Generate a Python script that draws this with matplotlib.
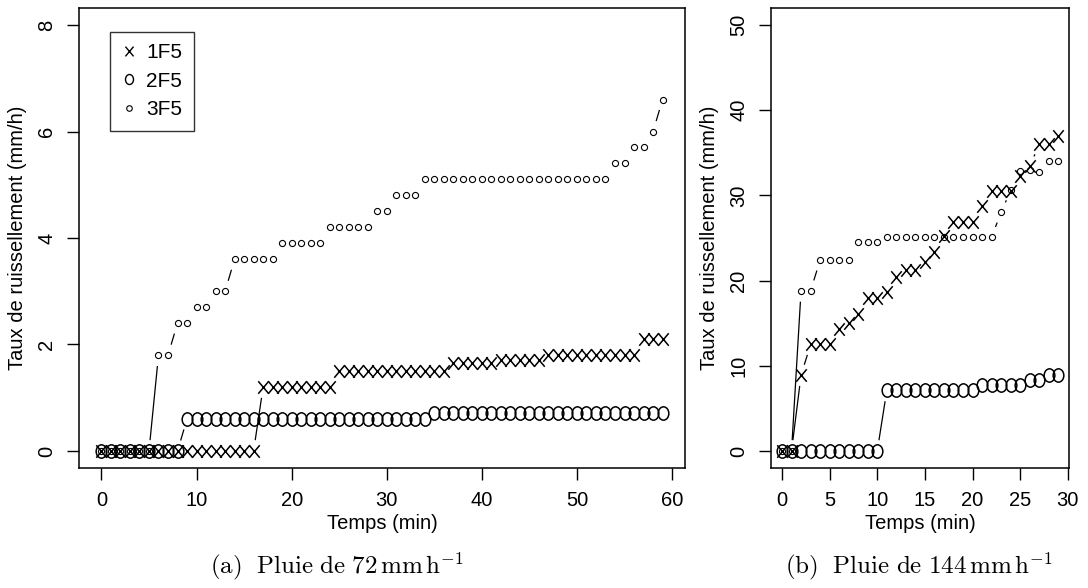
import matplotlib
import numpy as np
from matplotlib.lines import Line2D
from matplotlib.path import Path

matplotlib.use("Agg")
import matplotlib.pyplot as plt  # noqa: E402

plt.rcParams["font.family"] = ["Liberation Sans", "DejaVu Sans"]
plt.rcParams["mathtext.fontset"] = "cm"

SERIES = ["1F5", "2F5", "3F5"]

# (a) rain 72 mm/h, one reading per minute
TIME_A = list(range(60))
F1_A = [
    0, 0, 0, 0, 0, 0, 0, 0, 0, 0,
    0, 0, 0, 0, 0, 0, 0, 1.2, 1.2, 1.2,
    1.2, 1.2, 1.2, 1.2, 1.2, 1.5, 1.5, 1.5, 1.5, 1.5,
    1.5, 1.5, 1.5, 1.5, 1.5, 1.5, 1.5, 1.65, 1.65, 1.65,
    1.65, 1.65, 1.7, 1.7, 1.7, 1.7, 1.7, 1.8, 1.8, 1.8,
    1.8, 1.8, 1.8, 1.8, 1.8, 1.8, 1.8, 2.1, 2.1, 2.1,
]
F2_A = [
    0, 0, 0, 0, 0, 0, 0, 0, 0, 0.6,
    0.6, 0.6, 0.6, 0.6, 0.6, 0.6, 0.6, 0.6, 0.6, 0.6,
    0.6, 0.6, 0.6, 0.6, 0.6, 0.6, 0.6, 0.6, 0.6, 0.6,
    0.6, 0.6, 0.6, 0.6, 0.6, 0.72, 0.72, 0.72, 0.72, 0.72,
    0.72, 0.72, 0.72, 0.72, 0.72, 0.72, 0.72, 0.72, 0.72, 0.72,
    0.72, 0.72, 0.72, 0.72, 0.72, 0.72, 0.72, 0.72, 0.72, 0.72,
]
F3_A = [
    0, 0, 0, 0, 0, 0, 1.8, 1.8, 2.4, 2.4,
    2.7, 2.7, 3.0, 3.0, 3.6, 3.6, 3.6, 3.6, 3.6, 3.9,
    3.9, 3.9, 3.9, 3.9, 4.2, 4.2, 4.2, 4.2, 4.2, 4.5,
    4.5, 4.8, 4.8, 4.8, 5.1, 5.1, 5.1, 5.1, 5.1, 5.1,
    5.1, 5.1, 5.1, 5.1, 5.1, 5.1, 5.1, 5.1, 5.1, 5.1,
    5.1, 5.1, 5.1, 5.1, 5.4, 5.4, 5.7, 5.7, 6.0, 6.6,
]

# (b) rain 144 mm/h
TIME_B = list(range(30))
F1_B = [
    0, 0, 8.9, 12.5, 12.5, 12.5, 14.3, 15.0, 16.1, 17.9,
    17.9, 18.7, 20.4, 21.3, 21.3, 22.2, 23.3, 25.2, 26.9, 26.9,
    26.9, 28.8, 30.5, 30.5, 30.5, 32.3, 33.4, 36.0, 36.0, 37.0,
]
F2_B = [
    0, 0, 0, 0, 0, 0, 0, 0, 0, 0,
    0, 7.1, 7.1, 7.1, 7.1, 7.1, 7.1, 7.1, 7.1, 7.1,
    7.1, 7.8, 7.8, 7.8, 7.8, 7.8, 8.3, 8.3, 8.9, 8.9,
]
F3_B = [
    0, 0, 18.8, 18.8, 22.4, 22.4, 22.4, 22.4, 24.5, 24.5,
    24.5, 25.1, 25.1, 25.1, 25.1, 25.1, 25.1, 25.1, 25.1, 25.1,
    25.1, 25.1, 25.1, 28.0, 30.6, 32.9, 33.0, 32.8, 34.0, 34.0,
]

CAPTIONS = [
    r"$\mathrm{(a)\ \ Pluie\ de\ 72\,mm\,h^{-1}}$",
    r"$\mathrm{(b)\ \ Pluie\ de\ 144\,mm\,h^{-1}}$",
]

# thin "x" and tall "o" like R's pch characters
MARK_X = Path([(-0.42, -0.5), (0.42, 0.5), (-0.42, 0.5), (0.42, -0.5)],
              [Path.MOVETO, Path.LINETO, Path.MOVETO, Path.LINETO])
_circle = Path.unit_circle()
MARK_O = Path(_circle.vertices * [0.8, 1.0], _circle.codes)

STYLES = [
    dict(marker=MARK_X, ms=9.0, mfc="none", mec="black", mew=1.1),
    dict(marker=MARK_O, ms=9.6, mfc="none", mec="black", mew=1.1),
    dict(marker="o", ms=4.4, mfc="none", mec="black", mew=0.8),
]


def connect(ax, x, y, gap=11.5):
    # like R type="b": segments between points, cut back around each point
    pts = ax.transData.transform(np.column_stack([x, y]))
    back = ax.transData.inverted()
    for p0, p1 in zip(pts[:-1], pts[1:]):
        d = p1 - p0
        length = np.hypot(*d)
        if length <= 2 * gap:
            continue
        u = d / length
        a, b = back.transform([p0 + gap * u, p1 - gap * u])
        ax.plot([a[0], b[0]], [a[1], b[1]], color="black", lw=0.9)


def panel(ax, t, series, xlim, ylim, xticks, yticks):
    ax.set_xlim(xlim)
    ax.set_ylim(ylim)
    ax.set_xticks(xticks)
    ax.set_yticks(yticks)
    for spine in ax.spines.values():
        spine.set_linewidth(1.1)
    ax.tick_params(length=8.5, width=1.0, labelsize=14.5, pad=8)
    for label in ax.get_yticklabels():
        label.set_rotation(90)
        label.set_va("center")
    ax.set_xlabel("Temps (min)", fontsize=14.5, labelpad=3)
    ax.set_ylabel("Taux de ruissellement (mm/h)", fontsize=14.5, labelpad=7)
    for values, style in zip(series, STYLES):
        ax.plot(t, values, ls="none", **style)
        connect(ax, t, values)


fig = plt.figure(figsize=(10.88, 5.88), dpi=100)
ax_a = fig.add_axes([0.0726, 0.2041, 0.557, 0.7823])
ax_b = fig.add_axes([0.7086, 0.2041, 0.2742, 0.7823])

panel(ax_a, TIME_A, [F1_A, F2_A, F3_A], (-2.36, 61.36), (-0.32, 8.32),
      range(0, 61, 10), range(0, 9, 2))
panel(ax_b, TIME_B, [F1_B, F2_B, F3_B], (-1.16, 30.16), (-2, 52),
      range(0, 31, 5), range(0, 51, 10))

handles = [
    Line2D([], [], ls="none", marker=MARK_X, ms=7.0, mfc="none", mec="black", mew=1.0),
    Line2D([], [], ls="none", marker=MARK_O, ms=7.2, mfc="none", mec="black", mew=1.0),
    Line2D([], [], ls="none", marker="o", ms=4.0, mfc="none", mec="black", mew=0.8),
]
leg = ax_a.legend(handles, SERIES, loc="upper left", bbox_to_anchor=(0.051, 0.948),
                  fontsize=15, frameon=True, fancybox=False, edgecolor="black",
                  handlelength=0.7, handletextpad=0.5, labelspacing=0.45,
                  borderpad=0.55, borderaxespad=0)
leg.get_frame().set_linewidth(1.0)

fig.text(0.31, 0.037, CAPTIONS[0], ha="center", va="center", fontsize=18)
fig.text(0.845, 0.037, CAPTIONS[1], ha="center", va="center", fontsize=18)

fig.savefig("out.png", dpi=100)
